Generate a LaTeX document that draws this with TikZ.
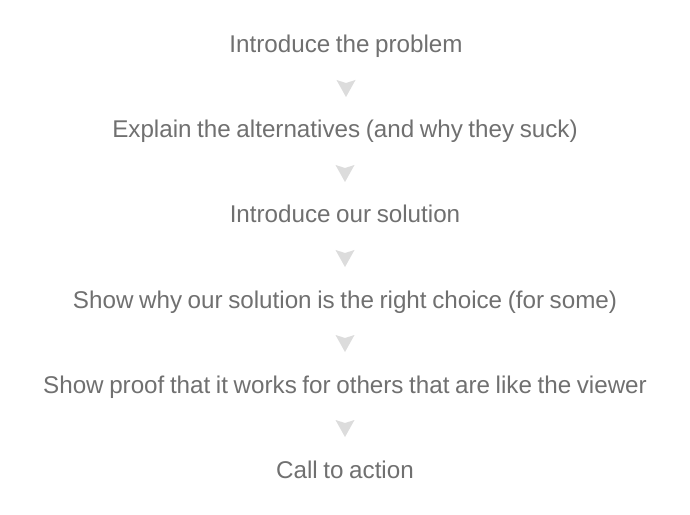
\documentclass[tikz,border=0pt]{standalone}
\usepackage{fontspec}
\setmainfont{Liberation Sans}
\usetikzlibrary{calc}
\definecolor{txtgray}{HTML}{707070}
\definecolor{arrgray}{HTML}{DCDCDC}
\newcommand\stepfont{\fontsize{24.2bp}{28bp}\selectfont\spaceskip=5.6bp\relax}
\begin{document}
\begin{tikzpicture}[x=1bp,y=1bp,
  stepnode/.style={anchor=base,inner sep=0pt,text=txtgray,font=\stepfont},
  chev/.pic={\fill[arrgray] (-9.5,0) -- (0,-3) -- (9.5,0) -- (0,-17) -- cycle;}]
\useasboundingbox (0,0) rectangle (690,-515);
\fill[white] (0,0) rectangle (690,-515);
\node[stepnode] (t1) at (346,-53) {Introduce the problem};
\node[stepnode] (t2) at (345,-138) {Explain the alternatives (and why they suck)};
\node[stepnode] (t3) at (345,-223) {Introduce our solution};
\node[stepnode] (t4) at (345,-308) {Show why our solution is the right choice (for some)};
\node[stepnode] (t5) at (345,-393) {Show proof that it works for others that are like the viewer};
\node[stepnode] (t6) at (345,-478) {Call to action};
\foreach \n in {1,...,5}{
  \pic at ($(t\n.base)+(0,-27)$) {chev};
}
\end{tikzpicture}
\end{document}
